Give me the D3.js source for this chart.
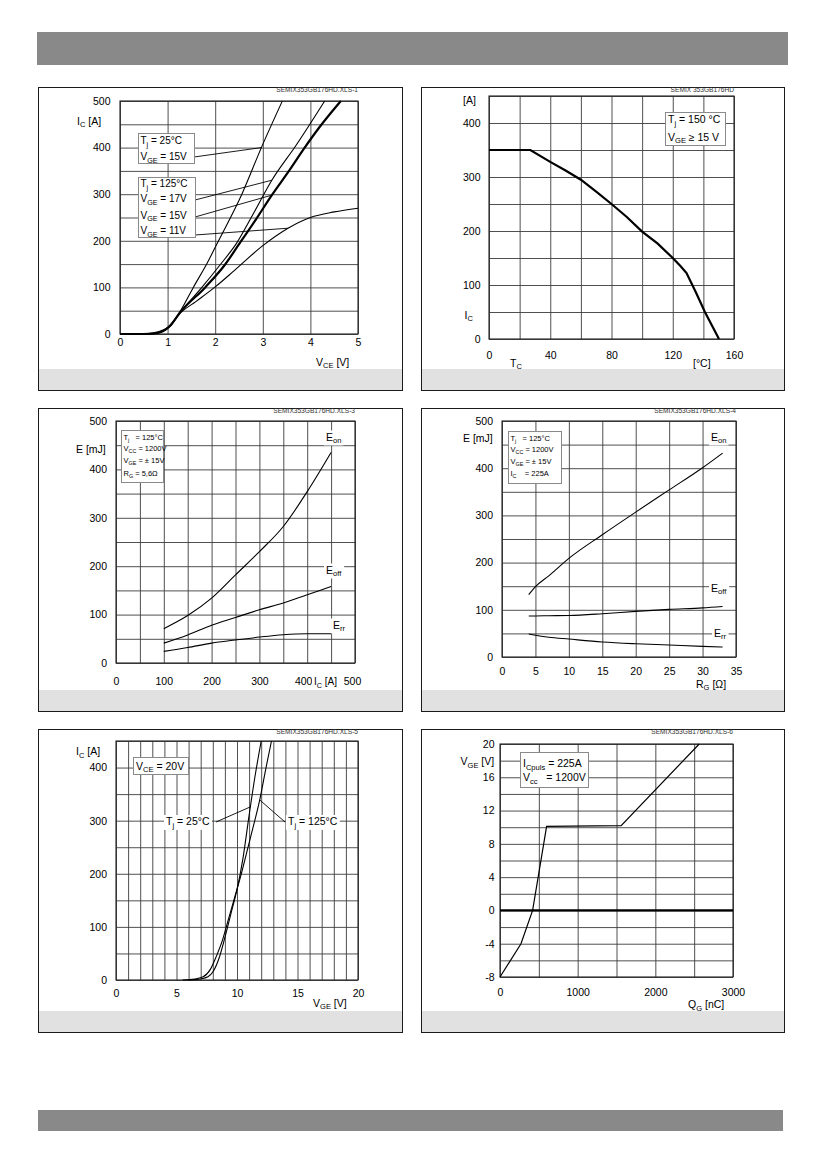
<!DOCTYPE html>
<html>
<head>
<meta charset="utf-8">
<script src="https://cdn.jsdelivr.net/npm/d3@7"></script>
<style>
body{margin:0;background:#fff}
text{font-family:"Liberation Sans",Arial,sans-serif;white-space:pre}
</style>
</head>
<body>
<svg width="826" height="1169"></svg>
<script>
// ---- data ----
// fig 1: output characteristic, Ic vs Vce
var vce25v15=[[0,0],[0.4,0],[0.6,1],[0.8,5],[1.0,14],[1.26,48],[1.54,100],[1.83,152],[2.07,200],[2.56,300],[2.97,400],[3.41,500]];
var vce125v17=[[0,0],[0.5,0],[0.7,1],[0.9,6],[1.05,17],[1.26,46],[1.72,100],[2.1,148],[2.45,195],[2.8,258],[3.19,330],[3.7,405],[4.3,500]];
var vce125v15=[[0,0],[0.5,0],[0.7,1],[0.9,6],[1.05,17],[1.26,46],[1.79,100],[2.2,148],[2.49,191],[2.85,245],[3.19,298],[3.55,350],[3.88,400],[4.17,441],[4.64,500]];
var vce125v11=[[0,0],[0.5,0],[0.7,1],[0.9,6],[1.05,17],[1.26,44],[1.6,70],[2.0,101],[2.4,136],[2.98,188],[3.53,227],[4.0,250],[4.5,262],[5.0,270]];
// fig 2: rated current vs case temperature
var tCase=[0,27,40,50,60,70,80,90,100,110,120,125,129,135,141,150.2];
var icMax=[350,350,328,312,295,273,250,226,199,177,150,135,122,87,50,0];
// fig 3: switching energy vs Ic
var icE=[100,150,200,250,300,350,400,450];
var eonIc=[71,98,134,182,230,282,354,435];
var eoffIc=[41,58,78,94,110,124,141,158];
var errIc=[24,32,41,47.5,53.6,58.5,60.5,60.5];
// fig 4: switching energy vs Rg
var rg=[4,5,7,10,15,20,25,30,33];
var eonRg=[132,149,172,209,259,307,354,401,432];
var eoffRg=[87,87,87.5,88,91.7,96.6,100.8,104,107];
var errRg=[48.7,46,42,38,31.7,28,25.4,22.6,21.2];
// fig 5: transfer characteristic
var vge25=[6.0,7.0,7.6,8.0,8.5,9.0,9.5,10.0,10.5,11.0,11.5,12.0];
var ic25=[0,2,6,15,40,80,125,170,230,310,385,450];
var vge125=[5.5,6.5,7.2,7.8,8.3,8.8,9.3,9.8,10.3,10.8,11.3,11.88,12.4,12.85];
var ic125=[0,2,6,20,45,75,115,155,195,240,285,339,400,450];
// fig 6: gate charge
var qg=[0,270,420,600,1560,2565];
var vgeQ=[-8,-4,0,10.1,10.2,20];

// ticks
var ticks1X=[0,1,2,3,4,5], ticks1Y=[0,100,200,300,400,500];
var ticks2X=[0,40,80,120,160], ticks2Y=[0,100,200,300,400];
var ticks3X=[0,100,200,300,400,500], ticks3Y=[0,100,200,300,400,500];
var ticks4X=[0,5,10,15,20,25,30,35], ticks4Y=[0,100,200,300,400,500];
var ticks5X=[0,5,10,15,20], ticks5Y=[0,100,200,300,400];
var ticks6X=[0,1000,2000,3000], ticks6Y=[-8,-4,0,4,8,12,16,20];

var svg=d3.select('svg');

// header / footer bars
svg.append('rect').attr('x',37).attr('y',32).attr('width',751).attr('height',33).style('fill','#898989');
svg.append('rect').attr('x',38).attr('y',1110).attr('width',745).attr('height',21).style('fill','#898989');

function rich(sel,str,size){
    var parts=str.split(/(_\{[^}]*\})/).filter(function(s){return s.length;});
    var sub=false;
    parts.forEach(function(p){
        if(p.indexOf('_{')==0){
            sel.append('tspan').attr('dy',size*0.28).attr('font-size',size*0.72).text(p.slice(2,-1));
            sub=true;
        }
        else{
            var t=sel.append('tspan').text(p);
            if(sub){t.attr('dy',-size*0.28);sub=false;}
        }
    });
    return sel;
}

function label(g,str,x,y,size,bg){
    var t=g.append('text').attr('x',x).attr('y',y).attr('font-size',size).style('fill','#000');
    rich(t,str,size);
    if(bg){
        var b=t.node().getBBox();
        g.insert('rect',function(){return t.node();})
        .attr('x',b.x-2).attr('y',b.y).attr('width',b.width+4).attr('height',b.height)
        .style('fill','#fff');
    }
    return t;
}

function legend(g,box,lines,x0,ys,size){
    g.append('rect').attr('x',box[0]+0.5).attr('y',box[1]+0.5).attr('width',box[2]).attr('height',box[3])
    .style('fill','#fff').style('stroke','#8a8a8a');
    lines.forEach(function(s,i){label(g,s,x0,ys[i],size);});
}

function panel(c){
    var g=svg.append('g');
    var b=c.box, p=c.plot;
    g.append('rect').attr('x',b[0]+0.5).attr('y',b[1]+0.5).attr('width',b[2]).attr('height',b[3])
    .style('fill','#fff').style('stroke','#1a1a1a');
    g.append('rect').attr('x',b[0]+1).attr('y',b[1]+b[3]-21).attr('width',b[2]-1).attr('height',21)
    .style('fill','#e1e1e1');

    var x=d3.scaleLinear().domain(c.xd).range([p[0],p[2]]);
    var y=d3.scaleLinear().domain(c.yd).range([p[3],p[1]]);

    // grid
    var gx=g.append('g').attr('transform','translate(0,'+p[3]+')')
    .call(d3.axisBottom(x).tickValues(d3.range(c.xd[0],c.xd[1]+1e-9,c.gx)).tickSize(-(p[3]-p[1])).tickFormat(''));
    var gy=g.append('g').attr('transform','translate('+p[0]+',0)')
    .call(d3.axisLeft(y).tickValues(d3.range(c.yd[0],c.yd[1]+1e-9,c.gy)).tickSize(-(p[2]-p[0])).tickFormat(''));
    [gx,gy].forEach(function(a){
        a.select('.domain').remove();
        a.selectAll('line').style('stroke','#3c3c3c').style('stroke-width',0.9);
    });
    g.append('rect').attr('x',p[0]).attr('y',p[1]).attr('width',p[2]-p[0]).attr('height',p[3]-p[1])
    .style('fill','none').style('stroke','#222').style('stroke-width',1.1);

    // tick labels
    var plain=function(d){return String(d);};
    var ax=g.append('g').attr('transform','translate(0,'+p[3]+')')
    .call(d3.axisBottom(x).tickValues(c.tx).tickSize(0).tickPadding(c.padX).tickFormat(plain));
    var ay=g.append('g').attr('transform','translate('+p[0]+',0)')
    .call(d3.axisLeft(y).tickValues(c.ty).tickSize(0).tickPadding(c.padY).tickFormat(plain));
    [ax,ay].forEach(function(a){
        a.select('.domain').remove();
        a.selectAll('text').attr('font-size',10.5).style('fill','#000')
        .style('font-family','"Liberation Sans",Arial,sans-serif');
    });

    g.append('text').attr('x',p[2]).attr('y',b[1]+5).attr('text-anchor','end')
    .attr('font-size',6.6).style('fill','#333').text(c.code);

    return {g:g,x:x,y:y,ax:ax};
}

function curve(P,pts,w,kind){
    var line=d3.line().x(function(d){return P.x(d[0]);}).y(function(d){return P.y(d[1]);})
    .curve(kind||d3.curveMonotoneX);
    P.g.append('path').datum(pts).attr('d',line)
    .style('fill','none').style('stroke','#000').style('stroke-width',w||1.1);
}

function zip(a,b){return a.map(function(v,i){return [v,b[i]];});}

function leader(P,from,to){
    P.g.append('line').attr('x1',from[0]).attr('y1',from[1]).attr('x2',P.x(to[0])).attr('y2',P.y(to[1]))
    .style('stroke','#000').style('stroke-width',0.9);
}

// ---- fig 1 ----
var P1=panel({box:[38,87,364,303],plot:[120,101,358,334],xd:[0,5],yd:[0,500],gx:1,gy:50,
    tx:ticks1X,ty:ticks1Y,padX:5,padY:9.5,code:'SEMIX353GB176HD.XLS-1'});
curve(P1,vce25v15);
curve(P1,vce125v17);
curve(P1,vce125v15,2.2);
curve(P1,vce125v11);
leader(P1,[194,157],[2.97,400]);
leader(P1,[195,200],[3.19,330]);
leader(P1,[195,217],[3.19,298]);
leader(P1,[195,235],[3.53,227]);
legend(P1.g,[138,133,56,30],['T_{j} = 25°C','V_{GE} = 15V'],140.5,[144,160],10);
legend(P1.g,[138,177,57,60],['T_{j} = 125°C','V_{GE} = 17V','V_{GE} = 15V','V_{GE} = 11V'],140.5,[187,202,218.5,234],10);
label(P1.g,'I_{C} [A]',77,124.5,10.5);
label(P1.g,'V_{CE} [V]',316,365.5,10.5);

// ---- fig 2 ----
var P2=panel({box:[421,87,363,303],plot:[489,96,734,339],xd:[0,160],yd:[0,450],gx:20,gy:50,
    tx:ticks2X,ty:ticks2Y,padX:12.5,padY:8.5,code:'SEMIX 353GB176HD'});
curve(P2,zip(tCase,icMax),2.2,d3.curveLinear);
legend(P2.g,[665,112,60,33],['T_{j} = 150 °C','V_{GE} ≥ 15 V'],668,[123,140.5],10.5);
label(P2.g,'[A]',463,103.5,10.5);
label(P2.g,'I_{C}',464.5,318.5,10.5);
label(P2.g,'T_{C}',510,366.5,10.5);
label(P2.g,'[°C]',693,366.5,10.5);

// ---- fig 3 ----
var P3=panel({box:[38,408,364,303],plot:[116,421,355,663],xd:[0,500],yd:[0,500],gx:50,gy:50,
    tx:ticks3X,ty:ticks3Y,padX:14.5,padY:9,code:'SEMIX353GB176HD.XLS-3'});
P3.ax.selectAll('text').filter(function(d){return d==400;}).attr('dx',-4);
P3.ax.selectAll('text').filter(function(d){return d==500;}).attr('dx',-3);
curve(P3,zip(icE,eonIc));
curve(P3,zip(icE,eoffIc));
curve(P3,zip(icE,errIc));
legend(P3.g,[121,430,42,52],['T_{j}   = 125°C','V_{CC} = 1200V','V_{GE} = ± 15V','R_{G} = 5,6Ω'],123.5,[440,451,463,476],7.5);
label(P3.g,'E [mJ]',76,452.8,10.5);
label(P3.g,'I_{C} [A]',314,685,10,true);
label(P3.g,'E_{on}',326,440.5,10.5,true);
label(P3.g,'E_{off}',326,573.5,10.5,true);
label(P3.g,'E_{rr}',333,628.5,10.5,true);

// ---- fig 4 ----
var P4=panel({box:[421,408,363,303],plot:[502,421,736,657],xd:[0,35],yd:[0,500],gx:5,gy:50,
    tx:ticks4X,ty:ticks4Y,padX:11,padY:9,code:'SEMIX353GB176HD.XLS-4'});
curve(P4,zip(rg,eonRg));
curve(P4,zip(rg,eoffRg));
curve(P4,zip(rg,errRg));
legend(P4.g,[508,431,53,52],['T_{j}   = 125°C','V_{CC} = 1200V','V_{GE} = ± 15V','I_{C}    = 225A'],510.5,[441,452,463.5,476],7.5);
label(P4.g,'E [mJ]',463,441.8,10.5);
label(P4.g,'R_{G} [Ω]',696,687.5,10.5);
label(P4.g,'E_{on}',711,440.5,10.5,true);
label(P4.g,'E_{off}',711,591.5,10.5,true);
label(P4.g,'E_{rr}',714,636.5,10.5,true);

// ---- fig 5 ----
var P5=panel({box:[38,729,364,303],plot:[116,741,358,980],xd:[0,20],yd:[0,450],gx:1,gy:50,
    tx:ticks5X,ty:ticks5Y,padX:9.5,padY:9,code:'SEMIX353GB176HD.XLS-5'});
curve(P5,zip(vge25,ic25));
curve(P5,zip(vge125,ic125));
label(P5.g,'T_{j} = 25°C',166,825,10.5,true);
label(P5.g,'T_{j} = 125°C',288,825,10.5,true);
leader(P5,[216,822],[11.11,326]);
leader(P5,[285,822],[11.88,339]);
legend(P5.g,[133,757,55,17],['V_{CE} = 20V'],136,[769.5],10.5);
label(P5.g,'I_{C} [A]',76,755,10.5);
label(P5.g,'V_{GE} [V]',313,1006.5,10.5);

// ---- fig 6 ----
var P6=panel({box:[421,729,363,303],plot:[500,744,733,977],xd:[0,3000],yd:[-8,20],gx:500,gy:2,
    tx:ticks6X,ty:ticks6Y,padX:11.5,padY:5.5,code:'SEMIX353GB176HD.XLS-6'});
P6.g.append('line').attr('x1',P6.x(0)).attr('x2',P6.x(3000)).attr('y1',P6.y(0)).attr('y2',P6.y(0))
.style('stroke','#000').style('stroke-width',2.2);
curve(P6,zip(qg,vgeQ),1.2,d3.curveLinear);
legend(P6.g,[520,752,68,35],['I_{Cpuls} = 225A','V_{cc}   = 1200V'],523,[767,781],10.5);
label(P6.g,'V_{GE} [V]',460.5,765,10.5);
label(P6.g,'Q_{G} [nC]',688,1008,10.5);
</script>
</body>
</html>
